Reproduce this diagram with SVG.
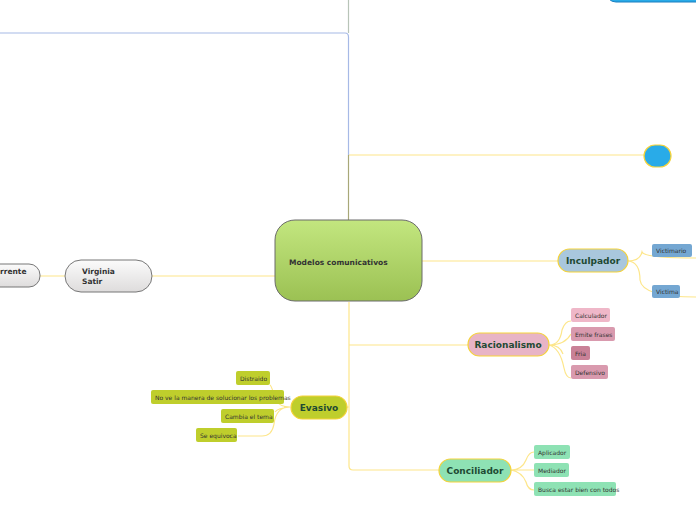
<svg xmlns="http://www.w3.org/2000/svg" width="696" height="520" viewBox="0 0 696 520">
<defs>
<linearGradient id="gc" x1="0" y1="0" x2="0" y2="1"><stop offset="0" stop-color="#c3e67f"/><stop offset="1" stop-color="#9bc153"/></linearGradient>
<linearGradient id="gw" x1="0" y1="0" x2="0" y2="1"><stop offset="0" stop-color="#fbfbfb"/><stop offset="1" stop-color="#dedcdc"/></linearGradient>
</defs>
<style>
.c{fill:none;stroke:#fde68a;stroke-width:1.2}
.t{font-family:"DejaVu Sans",sans-serif;font-weight:bold;fill:#1e4a33;font-size:9px;text-anchor:middle}
.s{font-family:"DejaVu Sans",sans-serif;fill:#333;font-size:6px}
.m{stroke:#f5d33a;stroke-width:1.2}
.l{stroke:#f5d33a;stroke-width:0.8}
</style>
<g id="connectors">
<path d="M348.5 0V33" stroke="#b8c4b8" stroke-width="1.2" fill="none"/>
<path d="M0 33H345Q348.5 33 348.5 37V155" stroke="#a6b9e6" stroke-width="1.2" fill="none"/>
<path d="M348.5 155V220" stroke="#a8a878" stroke-width="1.2" fill="none"/>
<path class="c" d="M349 155H644"/>
<path class="c" d="M40 276H66M152 276H275"/>
<path class="c" d="M422 261H558"/>
<path class="c" d="M349 302V466Q349 470 353 470H440M349 345H469M349 407H347"/>
<path class="c" d="M628 261Q640 261 642 252Q644 258 696 258M628 261Q640 262 640 280Q642 297 696 297"/>
<path class="c" d="M549 345Q560 345 562 330Q565 321 571 321M549 345Q565 345 571 334M549 345Q560 345 563 354M549 345Q560 348 564 368Q566 378 571 378"/>
<path class="c" d="M511 470Q522 470 526 460Q529 452 534 452M511 470H534M511 470Q522 472 526 482Q528 490 534 490"/>
<path class="c" d="M290 407Q280 407 275 400Q272 386 270 385M290 407H284M290 407Q278 408 275 412M290 407Q276 407 274 424Q272 436 262 436H238"/>
</g>
<g id="n-main"><rect x="275" y="220" width="147" height="81" rx="20" fill="url(#gc)" stroke="#6b6b6b" stroke-width="1"/><text x="289" y="265" class="t" style="text-anchor:start;font-size:7.5px;fill:#333">Modelos comunicativos</text></g>
<g id="n-satir"><rect x="65" y="260" width="87" height="32" rx="16" fill="url(#gw)" stroke="#777"/><text x="82" y="274" class="t" style="text-anchor:start;font-size:7.5px;fill:#333">Virginia</text><text x="82" y="284" class="t" style="text-anchor:start;font-size:7.5px;fill:#333">Satir</text></g>
<g id="n-corriente"><rect x="-30" y="264" width="70" height="23" rx="11" fill="url(#gw)" stroke="#777"/><text x="0" y="274" class="t" style="text-anchor:start;font-size:7.5px;fill:#333">rrente</text></g>
<g id="n-top"><rect x="606" y="-20" width="110" height="22" rx="10" fill="#29abe8" stroke="#1a7fc0"/></g>
<g id="n-blue"><rect x="644" y="145" width="27" height="22" rx="11" fill="#29abe8" class="m"/></g>
<g id="n-incul"><rect x="558" y="249" width="70" height="23" rx="11.5" fill="#a9c7dd" class="m"/><text x="593" y="264" class="t">Inculpador</text></g>
<g id="n-victimario"><rect x="652" y="244" width="40" height="13" rx="2" fill="#74a7d2"/><text x="656" y="253" class="s">Victimario</text></g>
<g id="n-victima"><rect x="652" y="285" width="28" height="13" rx="2" fill="#74a7d2"/><text x="656" y="294" class="s">Victima</text></g>
<g id="n-racio"><rect x="468" y="333" width="81" height="23" rx="11.5" fill="#e8b4c6" class="m"/><text x="508" y="348" class="t">Racionalismo</text></g>
<g id="n-calc"><rect x="571" y="308" width="39" height="14" rx="2" fill="#efb7c8"/><text x="575" y="318" class="s">Calculador</text></g>
<g id="n-emite"><rect x="571" y="327" width="44" height="14" rx="2" fill="#d99aae"/><text x="575" y="337" class="s">Emite frases</text></g>
<g id="n-fria"><rect x="571" y="346" width="19" height="14" rx="2" fill="#c98197"/><text x="575" y="356" class="s">Fria</text></g>
<g id="n-def"><rect x="571" y="365" width="37" height="14" rx="2" fill="#d99aae"/><text x="575" y="375" class="s">Defensivo</text></g>
<g id="n-evasivo"><rect x="291" y="396" width="56" height="23" rx="11.5" fill="#bfce2c" class="m"/><text x="319" y="411" class="t">Evasivo</text></g>
<g id="n-distr"><rect x="236" y="371" width="34" height="14" rx="2" fill="#bfce2c"/><text x="240" y="381" class="s">Distraido</text></g>
<g id="n-nove"><rect x="151" y="390" width="133" height="14" rx="2" fill="#bfce2c"/><text x="155" y="400" class="s">No ve la manera de solucionar los problemas</text></g>
<g id="n-cambia"><rect x="221" y="409" width="53" height="14" rx="2" fill="#bfce2c"/><text x="225" y="419" class="s">Cambia el tema</text></g>
<g id="n-se"><rect x="196" y="428" width="41" height="14" rx="2" fill="#bfce2c"/><text x="200" y="438" class="s">Se equivoca</text></g>
<g id="n-conc"><rect x="439" y="459" width="72" height="23" rx="11.5" fill="#8ee2b4" class="m"/><text x="475" y="474" class="t">Conciliador</text></g>
<g id="n-aplic"><rect x="534" y="445" width="36" height="14" rx="2" fill="#8ee2b4"/><text x="538" y="455" class="s">Aplicador</text></g>
<g id="n-med"><rect x="534" y="463" width="35" height="14" rx="2" fill="#8ee2b4"/><text x="538" y="473" class="s">Mediador</text></g>
<g id="n-busca"><rect x="534" y="482" width="82" height="14" rx="2" fill="#8ee2b4"/><text x="538" y="492" class="s">Busca estar bien con todos</text></g>
</svg>
